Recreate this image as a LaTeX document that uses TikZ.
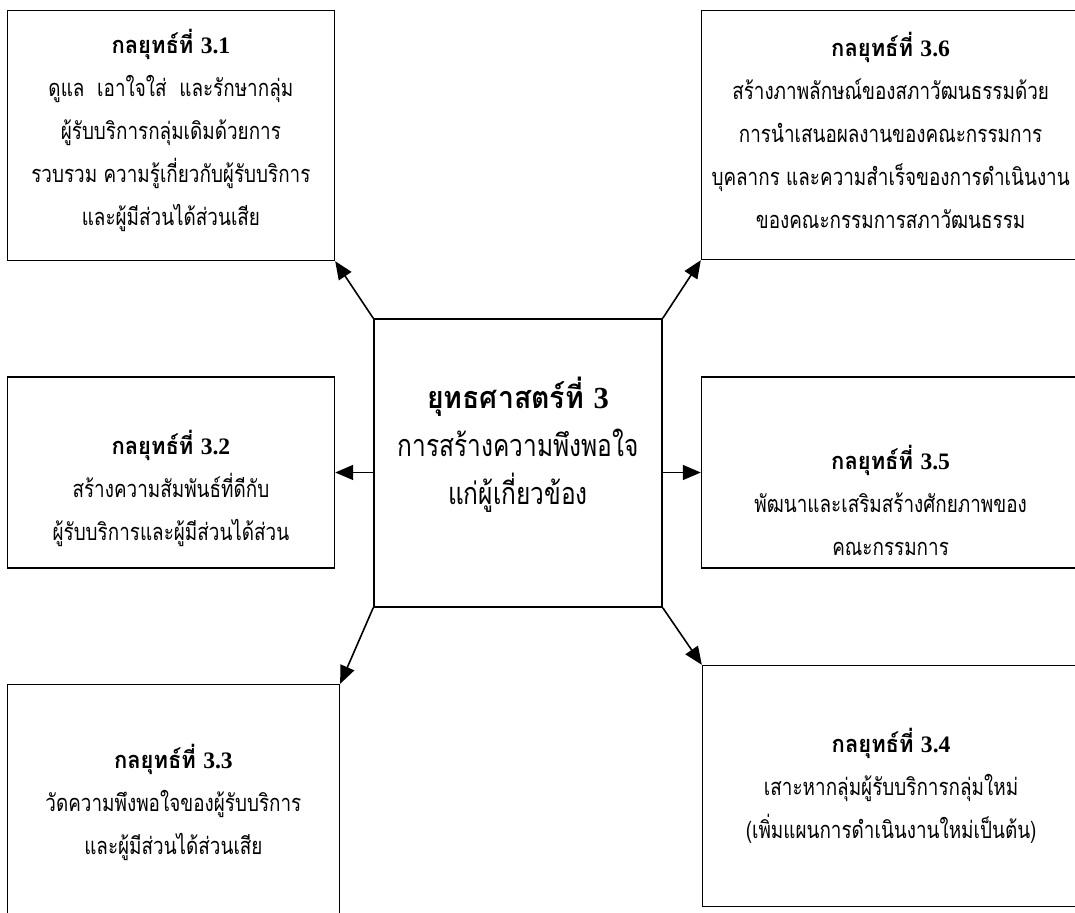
\documentclass[tikz,border=0pt]{standalone}
\usepackage{fontspec}
\setmainfont{Liberation Serif}
\newfontfamily\thaifont[Script=Thai, FakeStretch=0.8, BoldFeatures={FakeStretch=0.93}]{Loma}
\usetikzlibrary{arrows.meta}
\usetikzlibrary{positioning}

\newcommand{\kltitle}[1]{{\bfseries กลยุทธ์ที่ {\rmfamily #1}}}

\tikzset{
  box/.style={draw, line width=0.8pt, inner sep=0pt},
  boxtext/.style={align=center, font=\thaifont\fontsize{11.8}{21.5}\selectfont},
  link/.style={line width=0.8pt, -{Triangle[length=9pt,width=7.5pt]}},
}

\begin{document}
\begin{tikzpicture}
    \useasboundingbox (0,0) rectangle (537.5pt,456pt);
    \clip (0,0) rectangle (537.5pt,456pt);

    % boxes
    \node[box, minimum width=144pt, minimum height=144pt] (main) at (259pt,224.5pt) {};
    \node[box, minimum width=163.5pt, minimum height=125pt, above left=28.5pt and 19pt of main] (s31) {};
    \node[box, minimum width=189pt, minimum height=124.5pt, above right=29pt and 19pt of main] (s36) {};
    \node[box, minimum width=163.5pt, minimum height=95.5pt, left=19pt of main, yshift=-4.75pt] (s32) {};
    \node[box, minimum width=189pt, minimum height=95.5pt, right=19pt of main, yshift=-4.75pt] (s35) {};
    \node[box, minimum width=166pt, minimum height=117.5pt, below left=38pt and 16.5pt of main] (s33) {};
    \node[box, minimum width=188.5pt, minimum height=120.5pt, below right=28.5pt and 19.5pt of main] (s34) {};

    % texts
    \node[boxtext, font=\thaifont\fontsize{15.3}{24}\selectfont] (tmain) at ([yshift=9pt]main.center)
      {{\bfseries ยุทธศาสตร์ที่ {\rmfamily 3}}\\ การสร้างความพึงพอใจ\\ แก่ผู้เกี่ยวข้อง};
    \node[boxtext] (t31) at ([yshift=2.5pt]s31.center)
      {\kltitle{3.1}\\ ดูแล\ \ เอาใจใส่\ \ และรักษากลุ่ม\\ ผู้รับบริการกลุ่มเดิมด้วยการ\\
       รวบรวม ความรู้เกี่ยวกับผู้รับบริการ\\ และผู้มีส่วนได้ส่วนเสีย};
    \node[boxtext] (t36) at ([yshift=2.25pt]s36.center)
      {\kltitle{3.6}\\ สร้างภาพลักษณ์ของสภาวัฒนธรรมด้วย\\ การนำเสนอผลงานของคณะกรรมการ\\
       บุคลากร และความสำเร็จของการดำเนินงาน\\ ของคณะกรรมการสภาวัฒนธรรม};
    \node[boxtext] (t32) at ([yshift=-7.75pt]s32.center)
      {\kltitle{3.2}\\ สร้างความสัมพันธ์ที่ดีกับ\\ ผู้รับบริการและผู้มีส่วนได้ส่วน};
    \node[boxtext] (t35) at ([yshift=-13.75pt]s35.center)
      {\kltitle{3.5}\\ พัฒนาและเสริมสร้างศักยภาพของ\\ คณะกรรมการ};
    \node[boxtext] (t33) at (s33.center)
      {\kltitle{3.3}\\ วัดความพึงพอใจของผู้รับบริการ\\ และผู้มีส่วนได้ส่วนเสีย};
    \node[boxtext] (t34) at (s34.center)
      {\kltitle{3.4}\\ เสาะหากลุ่มผู้รับบริการกลุ่มใหม่\\ (เพิ่มแผนการดำเนินงานใหม่เป็นต้น)};

    % arrows
    \draw[link] (main.north west) -- (s31.south east);
    \draw[link] (main.north east) -- (s36.south west);
    \draw[link] (main.west |- s32.east) -- (s32.east);
    \draw[link] (main.east |- s35.west) -- (s35.west);
    \draw[link] (main.south west) -- (s33.north east);
    \draw[link] (main.south east) -- (s34.north west);
\end{tikzpicture}
\end{document}
